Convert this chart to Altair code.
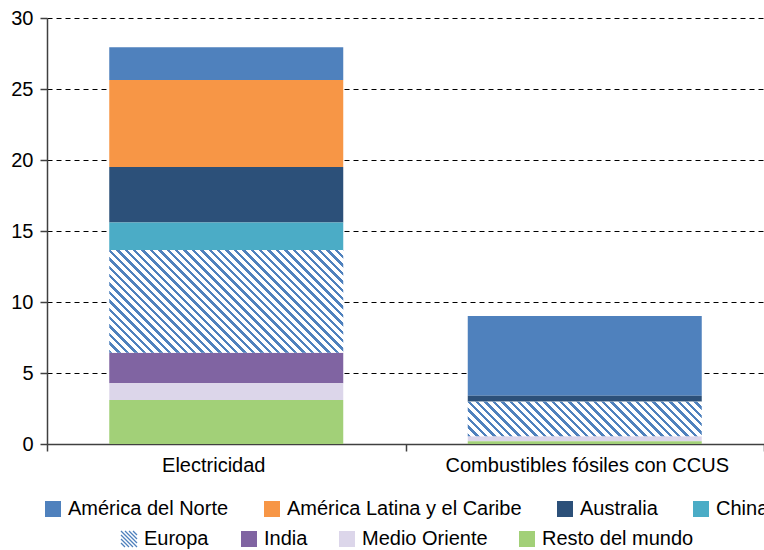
import math
import altair as alt
import pandas as pd

# ---------------- data ----------------
categories = ["Electricidad", "Combustibles fósiles con CCUS"]
regions = ["América del Norte", "América Latina y el Caribe", "Australia", "China",
           "Europa", "India", "Medio Oriente", "Resto del mundo"]
colors = ["#4f81bd", "#f79646", "#2c5079", "#4bacc6", "#ffffff", "#8064a2", "#dcd6ea", "#a2d078"]
electricidad = [2.31, 6.12, 3.91, 1.94, 7.23, 2.16, 1.17, 3.10]
combustibles = [5.63, 0.0, 0.42, 0.0, 2.42, 0.0, 0.35, 0.20]
y_ticks = [0, 5, 10, 15, 20, 25, 30]

# ---------------- style ----------------
FONT = "Liberation Sans"
HATCH_BLUE = "#4f81bd"
AXIS_GRAY = "#404040"
W, H = 717, 426
Y_MAX = 30
BAR_W = 234
HATCH_PATH = ("M-1,-1L1,1M-0.5,-1L1,0.5M0,-1L1,0M0.5,-1L1,-0.5"
              "M-1,-0.5L0.5,1M-1,0L0,1M-1,0.5L-0.5,1")

rows = []
for cat, vals in zip(categories, [electricidad, combustibles]):
    for i, (reg, v) in enumerate(zip(regions, vals)):
        rows.append({"category": cat, "region": reg, "value": v,
                     "order": len(regions) - 1 - i})
df = pd.DataFrame(rows)


def hatch_gradient(w, h, period=8.4, frac=0.4):
    """Linear gradient (bounding-box units) that renders 45-degree '\\' stripes."""
    r = w / h
    k = (r + 1) / (r * r + 1)
    n = (w + h) / period
    stops = []
    j = 0
    while j < n:
        t0 = min(j / n, 1.0)
        t1 = min((j + frac) / n, 1.0)
        t2 = min((j + 1) / n, 1.0)
        stops += [{"offset": t0, "color": HATCH_BLUE},
                  {"offset": t1, "color": HATCH_BLUE},
                  {"offset": t1, "color": "#ffffff"},
                  {"offset": t2, "color": "#ffffff"}]
        j += 1
    return {"gradient": "linear", "x1": 0, "y1": 1, "x2": k * r, "y2": 1 - k,
            "stops": stops}


x_enc = alt.X(
    "category:N", sort=categories,
    scale=alt.Scale(paddingInner=0, paddingOuter=0),
    axis=alt.Axis(
        title=None, labelFont=FONT, labelFontSize=20, labelColor="black",
        labelAngle=0, labelLimit=0, labelPadding=4, tickSize=7, tickBand="extent",
        tickColor=AXIS_GRAY, tickWidth=1.5, domainColor=AXIS_GRAY, domainWidth=1.5,
        grid=False,
        labelOffset={"condition": {"test": "datum.value === 'Electricidad'", "value": -13},
                     "value": 2},
    ),
)
y_enc = alt.Y(
    "y0:Q",
    scale=alt.Scale(domain=[0, Y_MAX], nice=False),
    axis=alt.Axis(
        values=y_ticks, title=None, labelFont=FONT, labelFontSize=20, labelColor="black",
        tickSize=7, labelPadding=7, tickColor=AXIS_GRAY, tickWidth=1.5,
        domainColor=AXIS_GRAY, domainWidth=1.5, grid=True, gridColor="#000000",
        gridDash=[5, 4], gridWidth=1,
    ),
)

base = alt.Chart(df).transform_stack(
    stack="value", groupby=["category"], as_=["y0", "y1"],
    sort=[alt.SortField("order", order="ascending")],
)

bars = base.mark_bar(size=BAR_W).encode(
    x=x_enc, y=y_enc, y2="y1:Q",
    color=alt.Color("region:N", scale=alt.Scale(domain=regions, range=colors), legend=None),
)

layers = [bars]
europa_idx = regions.index("Europa")
for cat, vals in zip(categories, [electricidad, combustibles]):
    v = vals[europa_idx]
    h = v * H / Y_MAX
    layers.append(
        base.transform_filter(
            f"datum.region === 'Europa' && datum.category === '{cat}'"
        ).mark_bar(size=BAR_W, fill=hatch_gradient(BAR_W, h)).encode(
            x=x_enc, y=y_enc, y2="y1:Q"
        )
    )

legend_common = dict(
    orient="none", direction="horizontal", title=None, labelFont=FONT,
    labelFontSize=20, labelColor="black", labelOffset=5, labelLimit=0,
    symbolSize=256, padding=0,
)


def legend_layer(names, cols, lx, ly, colpad, hatch=False):
    filt = alt.FieldOneOfPredicate(field="region", oneOf=names)
    if hatch:
        mark = base.transform_filter(filt).mark_point(
            shape=HATCH_PATH, filled=False, size=0, strokeWidth=1.3, opacity=1)
        leg = alt.Legend(legendX=lx, legendY=ly, columns=len(names), columnPadding=colpad,
                         symbolType=HATCH_PATH, symbolStrokeWidth=1.3, **legend_common)
    else:
        mark = base.transform_filter(filt).mark_point(
            shape="square", filled=True, size=0, opacity=1)
        leg = alt.Legend(legendX=lx, legendY=ly, columns=len(names), columnPadding=colpad,
                         symbolType="square", symbolStrokeWidth=0, **legend_common)
    return mark.encode(
        x=x_enc, y=y_enc,
        color=alt.Color("region:N", sort=names,
                        scale=alt.Scale(domain=names, range=cols), legend=leg),
    )


layers.append(legend_layer(regions[:4], colors[:4], -4, 481, 33))
layers.append(legend_layer(["Europa"], [HATCH_BLUE], 72, 511, 30, hatch=True))
layers.append(legend_layer(regions[5:], colors[5:], 192, 511, 29))

chart = alt.layer(*layers).resolve_scale(color="independent").properties(
    width=W, height=H,
    autosize=alt.AutoSizeParams(type="none"),
    padding={"left": 47, "top": 18, "right": 0, "bottom": 106},
    background="white",
).configure_view(stroke=None)

chart.save("out.html", embed_options={"renderer": "svg", "actions": False})
